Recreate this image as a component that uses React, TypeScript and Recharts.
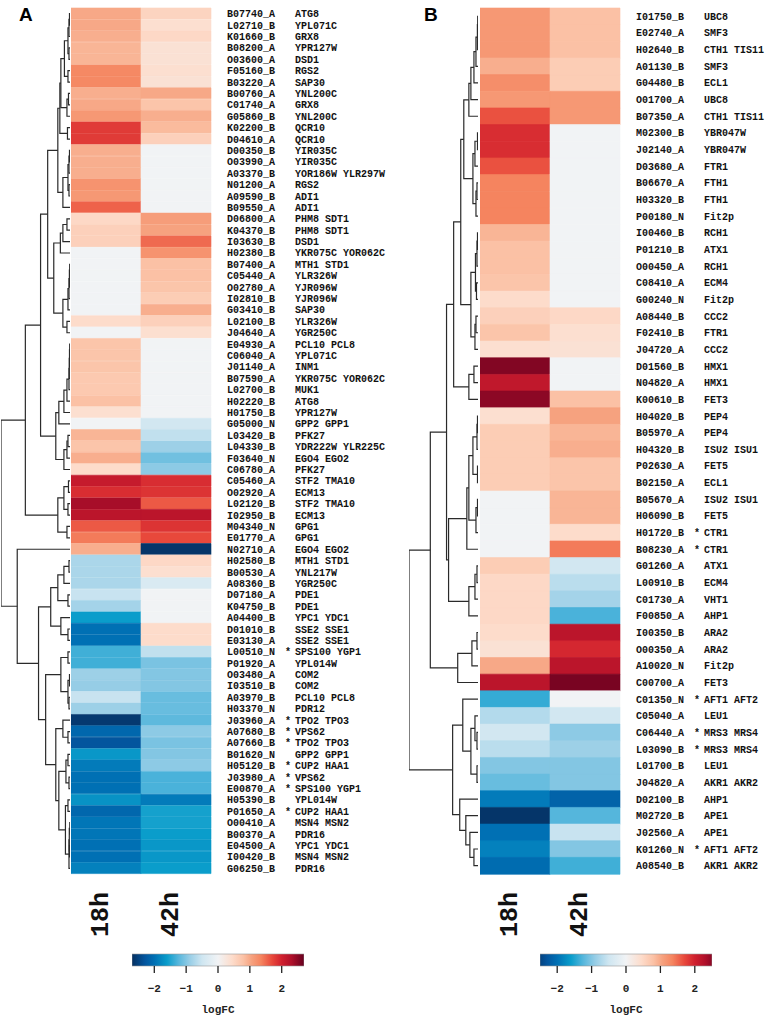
import React from 'react'
import { BarChart, Bar, XAxis, YAxis, Cell, ScatterChart, Scatter } from 'recharts'

// column labels of the heatmaps
const timepoints = ['18h', '42h']

// ---- panel A ----
const probesA = ['B07740_A', 'L02710_B', 'K01660_B', 'B08200_A', 'O03600_A', 'F05160_B', 'B03220_A', 'B00760_A', 'C01740_A', 'G05860_B', 'K02200_B', 'D04610_A', 'D00350_B', 'O03990_A', 'A03370_B', 'N01200_A', 'A09590_B', 'B09550_A', 'D06800_A', 'K04370_B', 'I03630_B', 'H02380_B', 'B07400_A', 'C05440_A', 'O02780_A', 'I02810_B', 'G03410_B', 'L02100_B', 'J04640_A', 'E04930_A', 'C06040_A', 'J01140_A', 'B07590_A', 'L02700_B', 'H02220_B', 'H01750_B', 'G05000_N', 'L03420_B', 'L04330_B', 'F03640_N', 'C06780_A', 'C05460_A', 'O02920_A', 'L02120_B', 'I02950_B', 'M04340_N', 'E01770_A', 'N02710_A', 'H02580_B', 'B00530_A', 'A08360_B', 'D07180_A', 'K04750_B', 'A04400_B', 'D01010_B', 'E03130_A', 'L00510_N', 'P01920_A', 'O03480_A', 'I03510_B', 'A03970_B', 'H03370_N', 'J03960_A', 'A07680_B', 'A07660_B', 'B01620_N', 'H05120_B', 'J03980_A', 'E00870_A', 'H05390_B', 'P01650_A', 'O00410_A', 'B00370_A', 'E04500_A', 'I00420_B', 'G06250_B']
const genesA = ['ATG8', 'YPL071C', 'GRX8', 'YPR127W', 'DSD1', 'RGS2', 'SAP30', 'YNL200C', 'GRX8', 'YNL200C', 'QCR10', 'QCR10', 'YIR035C', 'YIR035C', 'YOR186W YLR297W', 'RGS2', 'ADI1', 'ADI1', 'PHM8 SDT1', 'PHM8 SDT1', 'DSD1', 'YKR075C YOR062C', 'MTH1 STD1', 'YLR326W', 'YJR096W', 'YJR096W', 'SAP30', 'YLR326W', 'YGR250C', 'PCL10 PCL8', 'YPL071C', 'INM1', 'YKR075C YOR062C', 'MUK1', 'ATG8', 'YPR127W', 'GPP2 GPP1', 'PFK27', 'YDR222W YLR225C', 'EGO4 EGO2', 'PFK27', 'STF2 TMA10', 'ECM13', 'STF2 TMA10', 'ECM13', 'GPG1', 'GPG1', 'EGO4 EGO2', 'MTH1 STD1', 'YNL217W', 'YGR250C', 'PDE1', 'PDE1', 'YPC1 YDC1', 'SSE2 SSE1', 'SSE2 SSE1', 'SPS100 YGP1', 'YPL014W', 'COM2', 'COM2', 'PCL10 PCL8', 'PDR12', 'TPO2 TPO3', 'VPS62', 'TPO2 TPO3', 'GPP2 GPP1', 'CUP2 HAA1', 'VPS62', 'SPS100 YGP1', 'YPL014W', 'CUP2 HAA1', 'MSN4 MSN2', 'PDR16', 'YPC1 YDC1', 'MSN4 MSN2', 'PDR16']
const starredA = ['L00510_N', 'J03960_A', 'A07680_B', 'A07660_B', 'H05120_B', 'J03980_A', 'E00870_A', 'P01650_A']
const fc18A = [1.0, 1.0, 0.95, 0.9, 0.9, 1.3, 1.3, 0.95, 1.0, 1.15, 1.8, 1.8, 0.95, 0.95, 0.95, 1.2, 1.15, 1.55, 0.5, 0.6, 0.6, 0, 0, 0, 0, 0, 0, 0.45, 0, 0.75, 0.75, 0.75, 0.7, 0.7, 0.8, 0.4, 0, 0.9, 0.75, 0.95, 0.45, 2.1, 1.9, 2.35, 2.2, 1.6, 1.4, 0.95, -0.75, -0.75, -0.75, -0.55, -0.8, -1.6, -2.0, -2.0, -1.35, -1.35, -0.85, -0.9, -0.55, -0.85, -2.6, -2.1, -2.3, -1.65, -1.9, -2.0, -2.0, -1.7, -2.1, -1.95, -1.95, -2.0, -2.0, -1.85]
const fc42A = [0.55, 0.4, 0.5, 0.35, 0.35, 0.4, 0.35, 1.0, 0.75, 0.95, 0.85, 0.6, 0, 0, 0, 0, 0, 0, 1.1, 1.05, 1.5, 1.2, 0.8, 0.8, 0.75, 0.65, 0.95, 0.6, 0.4, 0, 0, 0, 0, 0, 0, 0, -0.45, -0.6, -0.85, -1.1, -0.95, 1.9, 1.85, 1.6, 2.2, 1.85, 1.7, -2.65, 0.5, 0.4, -0.35, 0, 0, 0, 0.45, 0.45, -0.6, -1.05, -1.0, -1.0, -1.15, -1.15, -1.2, -0.95, -1.05, -1.0, -0.95, -1.3, -1.3, -1.9, -1.55, -1.55, -1.6, -1.65, -1.65, -1.6]
// dendrogram: [left, right, merge height]; leaves are row indices
const treeA = [
  [
    [
      [
        [
          [[[[[[0, 1, 0.5], 2, 1], [3, 4, 1], 2], [5, 6, 2], 5.5], [[7, 8, 1.5], 9, 3], 9], [10, 11, 2.5], 10],
          [[[[12, 13, 0.5], 14, 1], [15, 16, 1], 2], 17, 7],
          12,
        ],
        [[[[18, 19, 3], 20, 7], 21, 9.5], [[[[[22, 23, 0.3], 24, 0.6], 25, 1], 26, 2], [27, 28, 3], 7], 16],
        22,
      ],
      [[[[[[[[29, 30, 0.3], 31, 0.5], 32, 0.7], 33, 1], 34, 3], 35, 6], 36, 11], [[[37, 38, 2], 39, 3], 40, 6], 14],
      29,
    ],
    [[[41, 42, 1.5], [43, 44, 2], 6], [45, 46, 3], 12],
    44,
  ],
  [
    47,
    [
      [[[[48, 49, 1], 50, 6], [51, 52, 2], 12], [53, [54, 55, 2], 9], 19],
      [
        [[56, 57, 2], [[58, 59, 0.5], [60, 61, 1], 2], 9],
        [[62, [63, 64, 2], 7], [[[65, 66, 2], [67, 68, 1], 4], [[69, 70, 2], [[[71, 72, 0.2], [73, 74, 0.5], 0.7], 75, 1], 4.5], 11], 14],
        24,
      ],
      31,
    ],
    52,
  ],
  68,
]

// ---- panel B ----
const probesB = ['I01750_B', 'E02740_A', 'H02640_B', 'A01130_B', 'G04480_B', 'O01700_A', 'B07350_A', 'M02300_B', 'J02140_A', 'D03680_A', 'B06670_A', 'H03320_B', 'P00180_N', 'I00460_B', 'P01210_B', 'O00450_A', 'C08410_A', 'G00240_N', 'A08440_B', 'F02410_B', 'J04720_A', 'D01560_B', 'N04820_A', 'K00610_B', 'H04020_B', 'B05970_A', 'H04320_B', 'P02630_A', 'B02150_A', 'B05670_A', 'H06090_B', 'H01720_B', 'B08230_A', 'G01260_A', 'L00910_B', 'C01730_A', 'F00850_A', 'I00350_B', 'O00350_A', 'A10020_N', 'C00700_A', 'C01350_N', 'C05040_A', 'C06440_A', 'L03090_B', 'L01700_B', 'J04820_A', 'D02100_B', 'M02720_B', 'J02560_A', 'K01260_N', 'A08540_B']
const genesB = ['UBC8', 'SMF3', 'CTH1 TIS11', 'SMF3', 'ECL1', 'UBC8', 'CTH1 TIS11', 'YBR047W', 'YBR047W', 'FTR1', 'FTH1', 'FTH1', 'Fit2p', 'RCH1', 'ATX1', 'RCH1', 'ECM4', 'Fit2p', 'CCC2', 'FTR1', 'CCC2', 'HMX1', 'HMX1', 'FET3', 'PEP4', 'PEP4', 'ISU2 ISU1', 'FET5', 'ECL1', 'ISU2 ISU1', 'FET5', 'CTR1', 'CTR1', 'ATX1', 'ECM4', 'VHT1', 'AHP1', 'ARA2', 'ARA2', 'Fit2p', 'FET3', 'AFT1 AFT2', 'LEU1', 'MRS3 MRS4', 'MRS3 MRS4', 'LEU1', 'AKR1 AKR2', 'AHP1', 'APE1', 'APE1', 'AFT1 AFT2', 'AKR1 AKR2']
const starredB = ['H01720_B', 'B08230_A', 'C01350_N', 'C06440_A', 'L03090_B', 'K01260_N']
const fc18B = [1.15, 1.15, 1.15, 0.95, 1.25, 1.15, 1.65, 1.9, 1.9, 1.65, 1.35, 1.35, 1.35, 0.9, 0.8, 0.8, 0.75, 0.45, 0.6, 0.75, 0.4, 2.55, 2.15, 2.5, 0.4, 0.65, 0.65, 0.65, 0.65, 0, 0, 0, 0, 0.65, 0.5, 0.5, 0.5, 0.45, 0.35, 1.0, 2.2, -1.4, -0.7, -0.45, -0.65, -1.0, -1.15, -1.9, -2.65, -2.0, -1.85, -2.05]
const fc42B = [0.8, 0.8, 0.8, 0.65, 0.65, 1.15, 1.15, 0, 0, 0, 0, 0, 0, 0, 0, 0, 0, 0, 0.5, 0.4, 0.35, 0, 0, 0.8, 1.05, 0.9, 0.95, 0.75, 0.75, 0.9, 0.9, 0.45, 1.4, -0.45, -0.65, -0.8, -1.3, 2.2, 1.95, 2.2, 2.6, 0, -0.45, -0.95, -0.85, -1.0, -1.0, -2.15, -1.25, -0.55, -1.0, -1.35]
const treeB = [
  [
    [
      [
        [
          [[[[[[[0, 1, 0.3], 2, 0.6], 3, 2], 4, 4], 5, 7], 6, 9], [[[7, 8, 0.5], 9, 3], [[10, 11, 1], 12, 2], 5], 14],
          [[[[13, 14, 0.5], 15, 1], [16, 17, 1.5], 2.5], [[18, 19, 2], 20, 3], 7],
          17,
        ],
        [[21, 22, 4], 23, 9],
        24,
      ],
      [
        [[[[[24, 25, 0.5], 26, 1], [27, 28, 0.5], 5], [[29, 30, 0.5], 31, 2], 9], 32, 11],
        [[[33, 34, 1], 35, 3], 36, 9],
        29,
      ],
      31,
    ],
    [[[37, 38, 1], 39, 6], 40, 20],
    47,
  ],
  [
    [41, [[42, [43, 44, 1], 3], [45, 46, 1], 7], 15],
    [47, [48, [49, [50, 51, 4], 8], 12], 18],
    25,
  ],
  68,
]

// logFC colour scale (blue - white - red)
const scaleStops: [number, string][] = [
  [-2.7, '#053061'], [-2.3, '#03559e'], [-2.0, '#0070b4'], [-1.6, '#0a9dcb'], [-1.25, '#55b6dc'],
  [-0.9, '#96cde6'], [-0.5, '#cfe6f1'], [0, '#f1f3f5'], [0.45, '#fddccb'], [0.8, '#fbc1a5'],
  [1.05, '#f6a27f'], [1.35, '#f5845f'], [1.7, '#e8483b'], [2.0, '#d0202e'], [2.3, '#b0102a'], [2.7, '#67001f'],
]

const hex = (c: string) => [1, 3, 5].map((i) => parseInt(c.slice(i, i + 2), 16))
function fcColor(v: number) {
  if (v <= scaleStops[0][0]) return scaleStops[0][1]
  for (let i = 1; i < scaleStops.length; i++) {
    const [v1, c1] = scaleStops[i]
    if (v <= v1) {
      const [v0, c0] = scaleStops[i - 1]
      const t = (v - v0) / (v1 - v0)
      const a = hex(c0), b = hex(c1)
      return 'rgb(' + a.map((x, k) => Math.round(x + (b[k] - x) * t)).join(',') + ')'
    }
  }
  return scaleStops[scaleStops.length - 1][1]
}

const MONO = '"Liberation Mono", "DejaVu Sans Mono", monospace'
const CHART_H = 945
const PLOT_TOP = 8
const AXIS_H = 71 // plot bottom at 874

function dendroLinks(tree: any) {
  const links: { x: number; y: number }[][] = []
  const walk = (node: any): { y: number; h: number } => {
    if (typeof node === 'number') return { y: node, h: 0 }
    const a = walk(node[0])
    const b = walk(node[1])
    const h = node[2]
    links.push([{ x: a.h, y: a.y }, { x: h, y: a.y }, { x: h, y: b.y }, { x: b.h, y: b.y }])
    return { y: (a.y + b.y) / 2, h }
  }
  walk(tree)
  return links
}

function Dendrogram({ tree, n, left, width, ml, mr }: any) {
  const links = dendroLinks(tree)
  return (
    <div style={{ position: 'absolute', left, top: 0 }}>
      <ScatterChart width={width} height={CHART_H} margin={{ top: PLOT_TOP, bottom: AXIS_H, left: ml, right: mr }}>
        <XAxis type="number" dataKey="x" domain={[0, tree[2]]} reversed hide allowDataOverflow />
        <YAxis type="number" dataKey="y" domain={[-0.5, n - 0.5]} reversed hide allowDataOverflow />
        {links.map((pts, i) => (
          <Scatter
            key={i}
            data={pts}
            line={{ stroke: '#2a2a2a', strokeWidth: 1.2 }}
            shape={() => <g />}
            isAnimationActive={false}
          />
        ))}
      </ScatterChart>
    </div>
  )
}

function Heatmap({ probes, genes, starred, fc18, fc42, left, axisW }: any) {
  const rows = probes.map((id: string, i: number) => ({
    id,
    gene: genes[i],
    star: starred.includes(id),
    v18: fc18[i],
    v42: fc42[i],
    w18: 1,
    w42: 1,
  }))
  const byId: Record<string, any> = {}
  rows.forEach((r: any) => (byId[r.id] = r))

  const RowTick = (p: any) => {
    const r = byId[p.payload.value]
    const st = { fontFamily: MONO, fontSize: 10, fontWeight: 700, fill: '#111' }
    return (
      <g>
        <text x={p.x} y={p.y} dy="0.35em" {...st}>{r.id}</text>
        {r.star && <text x={p.x + 58} y={p.y} dy="0.35em" {...st}>*</text>}
        <text x={p.x + 68} y={p.y} dy="0.35em" {...st}>{r.gene}</text>
      </g>
    )
  }
  const ColTick = (p: any) => (
    <text
      transform={`translate(${p.x + 2},${p.y}) rotate(-90)`}
      textAnchor="end"
      fontFamily={MONO}
      fontSize={25}
      fontWeight={700}
      fill="#111"
    >
      {timepoints[p.index]}
    </text>
  )

  return (
    <div style={{ position: 'absolute', left, top: 0 }}>
      <BarChart
        layout="vertical"
        width={140 + axisW}
        height={CHART_H}
        data={rows}
        margin={{ top: PLOT_TOP, right: 0, bottom: 0, left: 0 }}
        barCategoryGap={0}
        barGap={0}
      >
        <XAxis
          type="number"
          domain={[0, 2]}
          ticks={[0.5, 1.5]}
          interval={0}
          height={AXIS_H}
          axisLine={false}
          tickLine={false}
          tickSize={0}
          tickMargin={18}
          tick={ColTick}
        />
        <YAxis
          type="category"
          dataKey="id"
          orientation="right"
          width={axisW}
          interval={0}
          axisLine={false}
          tickLine={false}
          tickSize={0}
          tickMargin={16}
          tick={RowTick}
        />
        <Bar dataKey="w18" stackId="s" isAnimationActive={false}>
          {rows.map((r: any, i: number) => (
            <Cell key={i} fill={fcColor(r.v18)} stroke={fcColor(r.v18)} strokeWidth={0.6} />
          ))}
        </Bar>
        <Bar dataKey="w42" stackId="s" isAnimationActive={false}>
          {rows.map((r: any, i: number) => (
            <Cell key={i} fill={fcColor(r.v42)} stroke={fcColor(r.v42)} strokeWidth={0.6} />
          ))}
        </Bar>
      </BarChart>
    </div>
  )
}

function ColorBar({ id, lim, left, width }: any) {
  const stops = scaleStops.filter(([v]) => v > -lim && v < lim).map(([v]) => v)
  const pts = [-lim, ...stops, lim]
  return (
    <div style={{ position: 'absolute', left: left - 20, top: 950 }}>
      <BarChart
        layout="vertical"
        width={width + 40}
        height={69}
        data={[{ name: 'logFC', span: [-lim, lim] }]}
        margin={{ top: 4, right: 20, bottom: 0, left: 20 }}
        barCategoryGap={0}
      >
        <defs>
          <linearGradient id={id} x1="0" x2="1" y1="0" y2="0">
            {pts.map((v, i) => (
              <stop key={i} offset={(v + lim) / (2 * lim)} stopColor={fcColor(v)} />
            ))}
          </linearGradient>
        </defs>
        <XAxis
          type="number"
          domain={[-lim, lim]}
          ticks={[-2, -1, 0, 1, 2]}
          allowDataOverflow
          height={53}
          axisLine={false}
          tickSize={7}
          tickMargin={11}
          tickLine={{ stroke: '#222', strokeWidth: 1.3 }}
          tick={{ fontFamily: MONO, fontSize: 11, fontWeight: 700, fill: '#222' }}
          tickFormatter={(v: number) => (v < 0 ? '\u2212' + Math.abs(v) : String(v))}
          label={{ value: 'logFC', position: 'insideBottom', offset: 6, fontFamily: MONO, fontSize: 11, fontWeight: 700, fill: '#222' }}
        />
        <YAxis type="category" dataKey="name" hide />
        <Bar dataKey="span" fill={`url(#${id})`} stroke="#999" strokeWidth={0.6} isAnimationActive={false} />
      </BarChart>
    </div>
  )
}

const panelLabel = (left: number): React.CSSProperties => ({
  position: 'absolute',
  left,
  top: 5,
  font: 'bold 19px "Liberation Sans", Arial, sans-serif',
  lineHeight: '19px',
  color: '#000',
})

export default function App() {
  return (
    <div style={{ position: 'absolute', left: 0, top: 0, width: 765, height: 1019, background: '#fff', overflow: 'hidden' }}>
      <div style={panelLabel(19)}>A</div>
      <div style={panelLabel(424)}>B</div>

      <Dendrogram tree={treeA} n={probesA.length} left={0} width={70} ml={1} mr={0} />
      <Heatmap probes={probesA} genes={genesA} starred={starredA} fc18={fc18A} fc42={fc42A} left={71} axisW={180} />
      <ColorBar id="gradA" lim={2.7} left={132} width={172} />

      <Dendrogram tree={treeB} n={probesB.length} left={404} width={74} ml={5} mr={0} />
      <Heatmap probes={probesB} genes={genesB} starred={starredB} fc18={fc18B} fc42={fc42B} left={480} axisW={145} />
      <ColorBar id="gradB" lim={2.5} left={540} width={172} />
    </div>
  )
}
